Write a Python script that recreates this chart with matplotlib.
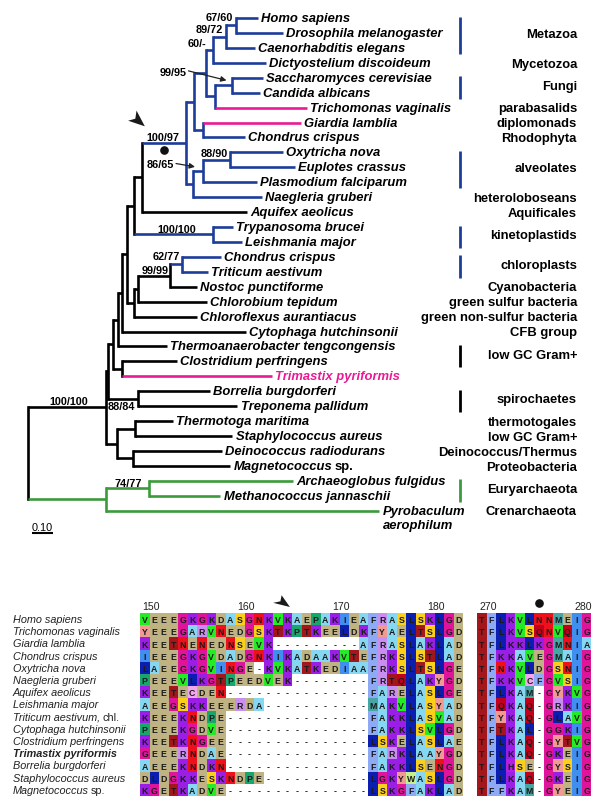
import matplotlib
matplotlib.use("Agg")
import matplotlib.pyplot as plt
from matplotlib.patches import Polygon, Rectangle
from matplotlib.transforms import offset_copy, IdentityTransform

plt.rcParams['font.family'] = ['Liberation Sans', 'DejaVu Sans']

BLUE = '#1d3d9b'
PINK = '#ea1a94'
GREEN = '#3b9a3b'

# ---------------- tree data: (node, parent, branch length) ----------------
edges = [
    ('root', None, 0.0),
    ('H', 'root', 0.370),
    ('I', 'H', 0.011),
    ('G', 'I', 0.022),
    ('F', 'G', 0.025),
    ('E', 'F', 0.016),
    ('D', 'E', 0.024),
    ('A', 'D', 0.036),
    ('EukAq', 'A', 0.038),
    ('Euk', 'EukAq', 0.211),
    ('U1', 'Euk', 0.036),
    ('U2', 'U1', 0.059),
    ('MD', 'U2', 0.031),
    ('MC', 'MD', 0.064),
    ('HD', 'MC', 0.048),
    ('Homo sapiens', 'HD', 0.101),
    ('Drosophila melanogaster', 'HD', 0.220),
    ('Caenorhabditis elegans', 'MC', 0.135),
    ('Dictyostelium discoideum', 'MD', 0.251),
    ('FT', 'U2', 0.040),
    ('Fungi', 'FT', 0.082),
    ('Saccharomyces cerevisiae', 'Fungi', 0.146),
    ('Candida albicans', 'Fungi', 0.132),
    ('Trichomonas vaginalis', 'FT', 0.438),
    ('GC', 'U1', 0.043),
    ('Giardia lamblia', 'GC', 0.465),
    ('Chondrus crispus', 'GC', 0.199),
    ('L1', 'Euk', 0.031),
    ('Alv', 'L1', 0.048),
    ('OE', 'Alv', 0.127),
    ('Oxytricha nova', 'OE', 0.252),
    ('Euplotes crassus', 'OE', 0.310),
    ('Plasmodium falciparum', 'Alv', 0.256),
    ('Naegleria gruberi', 'L1', 0.327),
    ('Aquifex aeolicus', 'EukAq', 0.499),
    ('TL', 'A', 0.376),
    ('Trypanosoma brucei', 'TL', 0.094),
    ('Leishmania major', 'TL', 0.137),
    ('C', 'D', 0.036),
    ('B', 'C', 0.019),
    ('CN', 'B', 0.151),
    ('Cp', 'CN', 0.056),
    ('Chondrus crispus cp', 'Cp', 0.187),
    ('Triticum aestivum', 'Cp', 0.125),
    ('Nostoc punctiforme', 'CN', 0.129),
    ('Chlorobium tepidum', 'B', 0.327),
    ('Chloroflexus aurantiacus', 'C', 0.299),
    ('Cytophaga hutchinsonii', 'E', 0.592),
    ('Thermoanaerobacter tengcongensis', 'F', 0.232),
    ('CT', 'G', 0.041),
    ('Clostridium perfringens', 'CT', 0.263),
    ('Trimastix pyriformis', 'CT', 0.716),
    ('Spiro', 'I', 0.143),
    ('Borrelia burgdorferi', 'Spiro', 0.341),
    ('Treponema pallidum', 'Spiro', 0.470),
    ('J', 'H', 0.051),
    ('TS', 'J', 0.087),
    ('Thermotoga maritima', 'TS', 0.181),
    ('Staphylococcus aureus', 'TS', 0.462),
    ('DM', 'J', 0.076),
    ('Deinococcus radiodurans', 'DM', 0.425),
    ('Magnetococcus sp.', 'DM', 0.463),
    ('Arch', 'root', 0.370),
    ('AM', 'Arch', 0.206),
    ('Archaeoglobus fulgidus', 'AM', 0.684),
    ('Methanococcus jannaschii', 'AM', 0.337),
    ('Pyrobaculum aerophilum', 'Arch', 1.300),
]

supports = {'HD': '67/60', 'MC': '89/72', 'MD': '60/-', 'Fungi': '99/95',
            'Euk': '100/97', 'Alv': '86/65', 'OE': '88/90', 'TL': '100/100',
            'Cp': '62/77', 'CN': '99/99', 'Spiro': '88/84', 'H': '100/100',
            'AM': '74/77'}

clade_colour = {'Euk': BLUE, 'TL': BLUE, 'Cp': BLUE, 'Arch': GREEN,
                'Trichomonas vaginalis': PINK, 'Giardia lamblia': PINK,
                'Trimastix pyriformis': PINK}

groups = [
    ('Metazoa', 'Homo sapiens', 'Caenorhabditis elegans', BLUE),
    ('Mycetozoa', 'Dictyostelium discoideum', None, None),
    ('Fungi', 'Saccharomyces cerevisiae', 'Candida albicans', BLUE),
    ('parabasalids', 'Trichomonas vaginalis', None, None),
    ('diplomonads', 'Giardia lamblia', None, None),
    ('Rhodophyta', 'Chondrus crispus', None, None),
    ('alveolates', 'Oxytricha nova', 'Plasmodium falciparum', BLUE),
    ('heteroloboseans', 'Naegleria gruberi', None, None),
    ('Aquificales', 'Aquifex aeolicus', None, None),
    ('kinetoplastids', 'Trypanosoma brucei', 'Leishmania major', BLUE),
    ('chloroplasts', 'Chondrus crispus cp', 'Triticum aestivum', BLUE),
    ('Cyanobacteria', 'Nostoc punctiforme', None, None),
    ('green sulfur bacteria', 'Chlorobium tepidum', None, None),
    ('green non-sulfur bacteria', 'Chloroflexus aurantiacus', None, None),
    ('CFB group', 'Cytophaga hutchinsonii', None, None),
    ('low GC Gram+', 'Thermoanaerobacter tengcongensis', 'Clostridium perfringens', 'black'),
    ('spirochaetes', 'Borrelia burgdorferi', 'Treponema pallidum', 'black'),
    ('thermotogales', 'Thermotoga maritima', None, None),
    ('low GC Gram+', 'Staphylococcus aureus', None, None),
    ('Deinococcus/Thermus', 'Deinococcus radiodurans', None, None),
    ('Proteobacteria', 'Magnetococcus sp.', None, None),
    ('Euryarchaeota', 'Archaeoglobus fulgidus', 'Methanococcus jannaschii', GREEN),
    ('Crenarchaeota', 'Pyrobaculum aerophilum', None, None),
]

# ---------------- alignment data ----------------
aln_names = ['Homo sapiens', 'Trichomonas vaginalis', 'Giardia lamblia',
             'Chondrus crispus', 'Oxytricha nova', 'Naegleria gruberi',
             'Aquifex aeolicus', 'Leishmania major', 'Triticum aestivum, chl.',
             'Cytophaga hutchinsonii', 'Clostridium perfringens',
             'Trimastix pyriformis', 'Borrelia burgdorferi',
             'Staphylococcus aureus', 'Magnetococcus sp.']
aln_left = [
    'VEEEGKGKDASGNKVKAEPAKIEAFRASLSKLGD',
    'YEEEGARVNEDGSKTKPTKEELDKFYAELTSLGD',
    'KEETNENEDNSEVK---------AFRASLAKLAD',
    'IEEEGKGVDADGNKIKADAAKVTEFRKSLSTLAD',
    'LAEEGKGVINGE-KVKATKEDIAAFRKSLTSLGE',
    'PEEEVLKGTPEEDVEK--------FRTQLAKYGD',
    'KEETECDEN---------------FARELASLGE',
    'AEEGSKKEEERDA-----------MAKVLASYAD',
    'KEEEKNDPE---------------FAKKLASVAD',
    'PEEEKGDVE---------------FAKKLSVLGD',
    'KEETKNGEE---------------LSKELASLAE',
    'GEEERNDAE---------------FARKLAAYGD',
    'AEEEKNDKN---------------FAKKLSENGD',
    'DLDGKKESKNDPE-----------LGKYWASLGD',
    'KGETKADVE---------------LSKGFAKLAD',
]
aln_right = [
    'TFLKVLNNMEIG', 'TFLKVSQNVQIG', 'TFLKKLKGMNIA', 'TFKKAVEGMAIG',
    'TFNKVLDGSNIG', 'TFKKVCFGVSIG', 'TFLKAM-GYKVG', 'TFQKAQ-GRKIG',
    'TFYKAQ-GLAVG', 'TFTKAL-GGKIG', 'TFLKAQ-GYTVG', 'TFLKAQ-GKEIG',
    'TFLHSE-GYSIG', 'TFLKAQ-GKEIG', 'TFFKAM-GYEIG',
]
left_start, right_start = 149, 269
left_ticks, right_ticks = [150, 160, 170, 180], [270, 280]
arrow_col, dot_col = 164, 275

aa_colour = {
    'A': '#86d8f2', 'R': '#c98ef0', 'N': '#f0101c', 'D': '#bfb283', 'C': '#f2a6ee',
    'Q': '#c2001c', 'E': '#bfb283', 'G': '#e0149a', 'H': '#b51fe0', 'I': '#3f8ef0',
    'L': '#0b1eb0', 'K': '#9a1ee6', 'M': '#46a6a6', 'F': '#8faaf5', 'P': '#17a66e',
    'S': '#fcd01a', 'T': '#a3161c', 'W': '#c6ef8e', 'Y': '#f19a94', 'V': '#24ec24',
    '-': 'white'}

# ---------------- layout of the tree ----------------
parent = {n: p for n, p, _ in edges}
blen = {n: b for n, _, b in edges}
kids = {n: [] for n, _, _ in edges}
for n, p, _ in edges:
    if p is not None:
        kids[p].append(n)

xpos, ypos, leaves = {}, {}, []


def layout(n, x):
    xpos[n] = x
    for k in kids[n]:
        layout(k, x + blen[k])
    if kids[n]:
        ypos[n] = (ypos[kids[n][0]] + ypos[kids[n][-1]]) / 2
    else:
        ypos[n] = len(leaves)
        leaves.append(n)


layout('root', 0.0)


def colour(n):
    while n is not None:
        if n in clade_colour:
            return clade_colour[n]
        n = parent[n]
    return 'black'


fig = plt.figure(figsize=(6, 8.03), dpi=100)
renderer = fig.canvas.get_renderer()

ax = fig.add_axes([0, 0, 1, 1])
ax.axis('off')
PX = 210.0      # pixels per substitution unit
ax.set_xlim(-28.3 / PX, (600 - 28.3) / PX)
ax.set_ylim((803 - 19) / 14.93, -19 / 14.93)

LW = 1.9
for n, p, b in edges:
    if p is not None:
        ax.plot([xpos[p], xpos[n]], [ypos[n]] * 2, color=colour(n), lw=LW,
                solid_capstyle='butt')
    if kids[n]:
        ax.plot([xpos[n]] * 2, [ypos[kids[n][0]], ypos[kids[n][-1]]],
                color=colour(n), lw=LW, solid_capstyle='projecting')

FS_LEAF = 9.4


def mixed(axis, x, y, parts, size, weight, dx=0.0, color='black', gap=2.6):
    off = dx
    for txt, style in parts:
        t = axis.text(x, y, txt, fontsize=size, fontweight=weight, fontstyle=style,
                      color=color, ha='left', va='center',
                      transform=offset_copy(axis.transData, fig=fig, x=off, y=0, units='dots'))
        off += t.get_window_extent(renderer).width + gap


for n in leaves:
    x, y = xpos[n], ypos[n]
    if n == 'Magnetococcus sp.':
        mixed(ax, x, y, [('Magnetococcus', 'italic'), ('sp.', 'normal')],
              FS_LEAF, 'bold', dx=3.5, gap=2.8)
    elif n == 'Pyrobaculum aerophilum':
        mixed(ax, x, y, [('Pyrobaculum', 'italic')], FS_LEAF, 'bold', dx=3.5)
        mixed(ax, x, y + 0.95, [('aerophilum', 'italic')], FS_LEAF, 'bold', dx=3.5)
    else:
        label = n[:-3] if n.endswith(' cp') else n
        ax.text(x, y, label, fontsize=FS_LEAF, fontweight='bold', fontstyle='italic',
                color=PINK if n == 'Trimastix pyriformis' else 'black',
                ha='left', va='center',
                transform=offset_copy(ax.transData, fig=fig, x=3.5, y=0, units='dots'))

# support values (offsets in pixels: left of node, baseline above branch)
label_offsets = {'HD': (-3.4, 5.5), 'MC': (-3.4, 4.8), 'MD': (-6.6, 4.0),
                 'Fungi': (-45.6, 9.7), 'Euk': (-6.7, 3.3), 'Alv': (-29.0, 3.9),
                 'OE': (-1.7, 3.4), 'TL': (-16.6, 2.6), 'Cp': (-1.7, 4.9),
                 'CN': (-1.7, 2.8), 'Spiro': (-3.3, -10.0), 'H': (-17.7, 3.0),
                 'AM': (-7.6, 2.2)}
for n, s in supports.items():
    dx, dy = label_offsets[n]
    ax.text(xpos[n], ypos[n], s, fontsize=7.8, fontweight='bold', ha='right',
            va='baseline',
            transform=offset_copy(ax.transData, fig=fig, x=dx, y=dy, units='dots'))

# little pointer arrows for two support values
for n, (sx, sy), (ex, ey) in [('Fungi', (-43.5, 14.3), (-5.5, 4.8)),
                              ('Alv', (-27.0, 7.5), (-8.0, 4.2))]:
    ax.annotate('', xy=(xpos[n], ypos[n]), xytext=(xpos[n], ypos[n]),
                xycoords=offset_copy(ax.transData, fig=fig, x=ex, y=ey, units='dots'),
                textcoords=offset_copy(ax.transData, fig=fig, x=sx, y=sy, units='dots'),
                arrowprops=dict(arrowstyle='-|>', color='#222222', lw=0.9,
                                mutation_scale=8, shrinkA=0, shrinkB=0))


def arrowhead(axis, x, y, sx=1.0, sy=1.0):
    tx, ty = axis.transData.transform((x, y))
    shape = [(0, 0), (-16.7, 5.6), (-9.5, 7.6), (-8.3, 15.7)]
    verts = [(tx + dx * sx, ty + dy * sy) for dx, dy in shape]
    fig.patches.append(Polygon(verts, closed=True, transform=IdentityTransform(),
                               facecolor='#1a1a1a', edgecolor='none', figure=fig))


# marks on the eukaryote branch
ep = parent['Euk']
ax.plot((xpos[ep] + xpos['Euk']) / 2, ypos['Euk'] + 0.48, 'o', color='#111111', ms=5.2)
arrowhead(ax, xpos[ep] + 2.7 / PX, ypos['Euk'] - 16.5 / 14.93)

# clade bars and group names
BAR_X = (460 - 28.3) / PX
NAME_X = (577 - 28.3) / PX
for name, first, last, bc in groups:
    y0 = ypos[first]
    y1 = ypos[last] if last else y0
    if bc:
        ax.plot([BAR_X, BAR_X], [y0 - 0.1, y1 + 0.4], color=bc, lw=2.0,
                solid_capstyle='butt')
    ax.text(NAME_X, (y0 + y1) / 2 + 0.05, name, fontsize=9.4, fontweight='bold',
            ha='right', va='center')

# scale bar
sb_x, sb_y = 3.7 / PX, 34.49
ax.plot([sb_x, sb_x + 0.10], [sb_y, sb_y], color='black', lw=1.5, solid_capstyle='butt')
ax.text(sb_x + 0.05, sb_y, '0.10', fontsize=7.8, ha='center', va='baseline',
        transform=offset_copy(ax.transData, fig=fig, x=0, y=3.0, units='dots'))

# ---------------- alignment ----------------
ax2 = fig.add_axes([0, 0, 1, 1])
ax2.axis('off')
CW, RH = 9.5, 12.2
ax2.set_xlim(-140 / CW, (600 - 140) / CW)
ax2.set_ylim((803 - 614) / RH, -614 / RH)
right_off = len(aln_left[0]) + 1.5


def cell(c, r, aa):
    ax2.add_patch(Rectangle((c, r), 1, 1, facecolor=aa_colour[aa], edgecolor='none'))
    ax2.text(c + 0.5, r + 0.55, aa, fontsize=6.3,
             fontweight='bold', color='#1a1a1a', ha='center', va='center')


for r, (sl, sr) in enumerate(zip(aln_left, aln_right)):
    for c, aa in enumerate(sl):
        cell(c, r, aa)
    for c, aa in enumerate(sr):
        cell(right_off + c, r, aa)

NAME_C = (13 - 140) / CW
for r, name in enumerate(aln_names):
    y = r + 0.5
    if name.startswith('Triticum'):
        mixed(ax2, NAME_C, y, [('Triticum aestivum,', 'italic'), ('chl.', 'normal')],
              7.8, 'normal', color='#222222', gap=2.2)
    elif name.startswith('Magnetococcus'):
        mixed(ax2, NAME_C, y, [('Magnetococcus', 'italic'), ('sp.', 'normal')],
              7.8, 'normal', color='#222222', gap=2.2)
    else:
        ax2.text(NAME_C, y, name, fontsize=7.8, fontstyle='italic',
                 fontweight='bold' if name.startswith('Trimastix') else 'normal',
                 color='#222222', ha='left', va='center')

for t in left_ticks:
    ax2.text(t - left_start + 1.05, -0.57, str(t), fontsize=7.6, color='#222222',
             ha='right', va='center')
for t in right_ticks:
    ax2.text(right_off + t - right_start + 1.05, -0.57, str(t), fontsize=7.6,
             color='#222222', ha='right', va='center')

ax2.plot(right_off + dot_col - right_start + 0.5, -0.82, 'o', color='#111111', ms=5.2)
arrowhead(ax2, arrow_col - left_start + 0.78, -0.49, 1.0, 0.75)

fig.savefig('out.png', dpi=100)
